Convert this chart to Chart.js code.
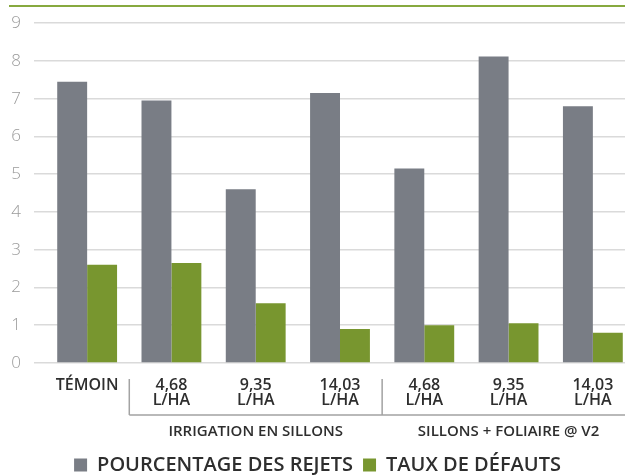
<!DOCTYPE html>
<html>
<head>
<meta charset="utf-8">
<script src="https://cdn.jsdelivr.net/npm/chart.js@4"></script>
<style>
  html, body { margin: 0; padding: 0; background: #fff; overflow: hidden; }
  canvas { display: block; }
</style>
</head>
<body>
<canvas id="rejetsChart" width="636" height="476"></canvas>
<script>
// categories (x axis), two lines each
const categories = [
    ['TÉMOIN'],
    ['4,68', 'L/HA'],
    ['9,35', 'L/HA'],
    ['14,03', 'L/HA'],
    ['4,68', 'L/HA'],
    ['9,35', 'L/HA'],
    ['14,03', 'L/HA']
]

const seriesNames = ['POURCENTAGE DES REJETS', 'TAUX DE DÉFAUTS']
const rejets = [7.45, 6.95, 4.6, 7.15, 5.15, 8.12, 6.8]
const defauts = [2.6, 2.65, 1.58, 0.9, 1.0, 1.05, 0.8]

// groups under the categories
const groupLabels = ['IRRIGATION EN SILLONS', 'SILLONS + FOLIAIRE @ V2']
const groupFirst = [1, 4]
const groupLast = [3, 6]

const yMin = 0
const yMax = 9
const yStep = 1

const grey = '#797d85'
const green = '#78962f'
const gridColor = '#dadada'
const textColor = '#2e2e2e'

// green rule at the top + brackets and group names under the axis
const decorPlugin = {
    id: 'decor',
    afterDraw(chart) {
        const ctx = chart.ctx
        const x = chart.scales.x
        const area = chart.chartArea
        ctx.save()

        ctx.strokeStyle = '#87a93f'
        ctx.lineWidth = 2
        ctx.beginPath()
        ctx.moveTo(9, 6)
        ctx.lineTo(chart.width, 6)
        ctx.stroke()

        const top = area.bottom + 16
        const bottom = area.bottom + 52
        ctx.strokeStyle = '#a3a3a3'
        ctx.lineWidth = 1.5
        const startX = (x.getPixelForValue(groupFirst[0] - 1) + x.getPixelForValue(groupFirst[0])) / 2
        ctx.beginPath()
        ctx.moveTo(startX, bottom)
        ctx.lineTo(chart.width, bottom)
        groupFirst.forEach(first => {
            const bx = (x.getPixelForValue(first - 1) + x.getPixelForValue(first)) / 2
            ctx.moveTo(bx, top)
            ctx.lineTo(bx, bottom)
        })
        ctx.stroke()

        ctx.fillStyle = textColor
        ctx.font = "600 15px 'Open Sans'"
        ctx.textAlign = 'center'
        ctx.textBaseline = 'middle'
        groupLabels.forEach((label, i) => {
            const cx = (x.getPixelForValue(groupFirst[i]) + x.getPixelForValue(groupLast[i])) / 2
            ctx.fillText(label, cx, bottom + 17)
        })
        ctx.restore()
    }
}

const ctx = document.getElementById('rejetsChart').getContext('2d')
new Chart(ctx, {
    type: 'bar',
    data: {
        labels: categories,
        datasets: [
            { label: seriesNames[0], data: rejets, backgroundColor: grey, borderWidth: 0 },
            { label: seriesNames[1], data: defauts, backgroundColor: green, borderWidth: 0 }
        ]
    },
    options: {
        responsive: false,
        animation: false,
        layout: { padding: { top: 20, right: 1, left: 0, bottom: -9 } },
        datasets: {
            bar: { categoryPercentage: 0.71, barPercentage: 1.0 }
        },
        plugins: {
            tooltip: { enabled: false },
            legend: {
                position: 'bottom',
                labels: {
                    boxWidth: 13,
                    boxHeight: 13,
                    padding: 10,
                    color: textColor,
                    font: { family: "'Open Sans'", size: 20, weight: '600' }
                }
            }
        },
        scales: {
            x: {
                grid: { display: false },
                border: { display: false },
                ticks: {
                    color: textColor,
                    maxRotation: 0,
                    autoSkip: false,
                    padding: 7,
                    font: { family: "'Open Sans'", size: 16, weight: '600', lineHeight: 0.95 }
                },
                afterFit(scale) { scale.height = 82 }
            },
            y: {
                min: yMin,
                max: yMax,
                border: { display: false },
                grid: { color: gridColor, lineWidth: 1.5, tickLength: 11, tickColor: gridColor },
                ticks: {
                    stepSize: yStep,
                    padding: 13,
                    color: '#9b9b9b',
                    font: { family: "'Open Sans'", size: 17, weight: '300' }
                },
                afterFit(scale) { scale.width = 45 }
            }
        }
    },
    plugins: [decorPlugin]
})
</script>
</body>
</html>
